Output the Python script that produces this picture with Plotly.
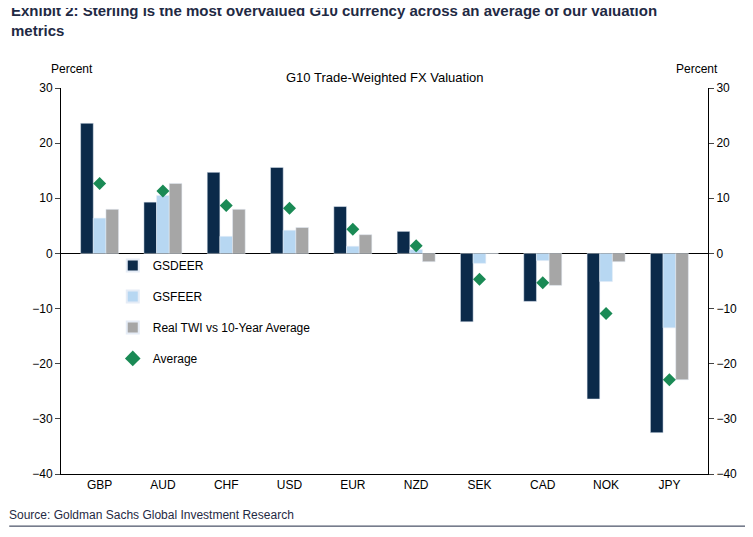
import plotly.graph_objects as go

cats = ["GBP","AUD","CHF","USD","EUR","NZD","SEK","CAD","NOK","JPY"]
gsdeer = [23.6, 9.3, 14.7, 15.6, 8.5, 4.0, -12.4, -8.7, -26.4, -32.5]
gsfeer = [6.4, 10.5, 3.1, 4.2, 1.3, 0.7, -1.8, -1.3, -5.1, -13.5]
twi = [8.0, 12.7, 8.0, 4.7, 3.4, -1.5, 0.0, -5.8, -1.5, -22.9]
avg = [12.7, 11.3, 8.7, 8.2, 4.4, 1.4, -4.7, -5.3, -10.9, -22.9]

font = dict(family="Liberation Sans, Arial", size=12, color="#000")
fig = go.Figure()
fig.add_bar(x=cats, y=gsdeer, name="GSDEER", marker_color="#0b2a4a", legendgroup="a")
fig.add_bar(x=cats, y=gsfeer, name="GSFEER", marker_color="#b7d7f2", legendgroup="b")
fig.add_bar(x=cats, y=twi, name="Real TWI vs 10-Year Average", marker_color="#a6a6a6", legendgroup="c")
fig.add_scatter(x=cats, y=avg, name="Average", mode="markers", legendgroup="d",
                marker=dict(symbol="diamond", size=10, color="#1a8a55"))
fig.add_scatter(x=cats, y=avg, yaxis="y2", mode="markers", marker=dict(opacity=0),
                showlegend=False, hoverinfo="skip")
ax = dict(range=[-40, 30], dtick=10, showgrid=False, zeroline=True, zerolinecolor="#000",
          zerolinewidth=1, showline=True, linecolor="#000", ticks="outside",
          tickfont=font)
fig.update_layout(
    width=753, height=537, plot_bgcolor="white", paper_bgcolor="white", font=font,
    margin=dict(l=53, r=53, t=80, b=71),
    barmode="group", bargap=0.4, bargroupgap=0,
    xaxis=dict(showline=True, linecolor="#000", ticks="", tickfont=font),
    yaxis=ax, yaxis2=dict(ax, overlaying="y", side="right", zeroline=False),
    legend=dict(x=0.08, y=0.42, bgcolor="rgba(0,0,0,0)", tracegroupgap=12,
                font=dict(family="Liberation Sans, Arial", size=12), itemsizing="constant"),
    annotations=[
        dict(text="<b>Exhibit 2: Sterling is the most overvalued G10 currency across an average of our valuation<br>metrics</b>",
             x=0, y=1, xref="paper", yref="paper", xanchor="left", yanchor="top",
             align="left", showarrow=False, font=dict(family="Liberation Sans, Arial", size=15, color="#1f2a44"),
             xshift=-52, yshift=88),
        dict(text="G10 Trade-Weighted FX Valuation", x=0.5, xref="paper", y=1, yref="paper",
             showarrow=False, yshift=20, font=dict(size=13)),
        dict(text="Percent", x=0, xref="paper", y=1, yref="paper", showarrow=False,
             xshift=-12, yshift=28),
        dict(text="Percent", x=1, xref="paper", y=1, yref="paper", showarrow=False,
             xshift=12, yshift=28),
        dict(text="Source: Goldman Sachs Global Investment Research", x=0, xref="paper",
             y=0, yref="paper", xanchor="left", showarrow=False, xshift=-54, yshift=-50,
             font=dict(size=12, color="#1f2a44")),
    ],
    shapes=[dict(type="line", xref="paper", yref="paper", x0=-0.08, x1=1.08,
                 y0=-0.135, y1=-0.135, line=dict(color="#1f2a44", width=1))],
)
fig.write_html("out.html")
